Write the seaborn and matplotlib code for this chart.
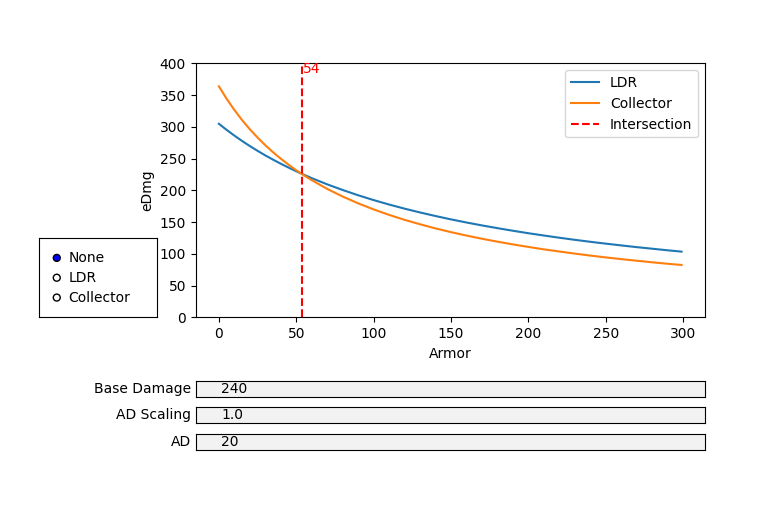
import matplotlib
matplotlib.use("Agg")
import matplotlib.pyplot as plt
from matplotlib.widgets import RadioButtons, TextBox
import numpy as np
import pandas as pd
import seaborn as sns

# Data
armor = [0, 5, 10, 15, 20, 25, 30, 35, 40, 45, 50, 55, 60, 70, 80, 90, 100, 110,
         120, 130, 140, 150, 160, 170, 180, 190, 200, 210, 220, 230, 240, 250,
         260, 270, 280, 290, 299]
ldr = [305.0, 295.4, 286.4, 277.9, 269.9, 262.4, 255.2, 248.5, 242.1, 236.0,
       230.2, 224.7, 219.4, 209.6, 200.7, 192.4, 184.8, 177.8, 171.3, 165.3,
       159.7, 154.4, 149.5, 144.9, 140.6, 136.5, 132.6, 129.0, 125.5, 122.2,
       119.1, 116.2, 113.4, 110.7, 108.2, 105.7, 103.6]
collector = [364.0, 344.4, 326.8, 310.8, 296.4, 283.3, 271.2, 260.2, 250.0, 240.6,
             231.8, 223.7, 216.2, 202.4, 190.4, 179.7, 170.1, 161.5, 153.7, 146.7,
             140.2, 134.3, 128.9, 123.9, 119.3, 115.0, 111.0, 107.2, 103.8, 100.5,
             97.4, 94.5, 91.8, 89.3, 86.8, 84.5, 82.6]
intersection = 54
radio_labels = ["None", "LDR", "Collector"]
box_labels = ["Base Damage", "AD Scaling", "AD"]
box_values = ["240", "1.0", "20"]

df = pd.DataFrame({"Armor": armor, "LDR": ldr, "Collector": collector})

fig = plt.figure(figsize=(7.83, 5.29), dpi=100)
ax = fig.add_axes([0.25, 0.4, 0.65, 0.48])

sns.lineplot(data=df, x="Armor", y="LDR", ax=ax, color="C0", label="LDR")
sns.lineplot(data=df, x="Armor", y="Collector", ax=ax, color="C1", label="Collector")
ax.axvline(intersection, color="red", linestyle="--", label="Intersection")
ax.text(intersection, 385, str(intersection), color="red")
ax.set_ylim(0, 400)
ax.set_xlabel("Armor")
ax.set_ylabel("eDmg")
ax.legend(loc="upper right")

rax = fig.add_axes([0.05, 0.4, 0.15, 0.15])
radio = RadioButtons(rax, radio_labels, active=0)

boxes = []
for i, (lab, val) in enumerate(zip(box_labels, box_values)):
    bax = fig.add_axes([0.25, 0.25 - 0.05 * i, 0.65, 0.03])
    boxes.append(TextBox(bax, lab, initial=val))

fig.savefig("out.png", dpi=100)
